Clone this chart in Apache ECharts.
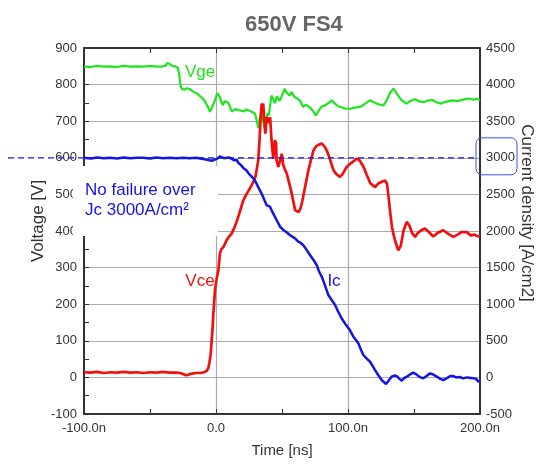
<!DOCTYPE html>
<html>
<head>
<meta charset="utf-8">
<title>650V FS4</title>
<script src="https://cdn.jsdelivr.net/npm/echarts@6/dist/echarts.min.js"></script>
<style>
  html, body { margin: 0; padding: 0; background: #fff; }
  #chart { width: 538px; height: 465px; }
</style>
</head>
<body>
<div id="chart"></div>
<script>
// Switching waveforms, time in ns
const vgeTime = [-100,-95,-90,-85,-80,-75,-70,-65,-60,-55,-50,-45,-40,-38,-37,-35,-33,-31,-29,-28,-27,-26,-25,-24,-22,-21,-20,-18,-16,-14,-12,-10,-8,-6,-4.5,-3,-1,1,1.7,3,4,5.3,6.5,8,9.5,11,12,13,14.5,15.7,17.5,19,21,23,25,27,29.5,31,32,33,34.6,35.8,37,38,39,40,41,42,43,44,44.6,46,47,48.4,50,52,53,54.5,56,57,59.6,61,63.6,66,68,71,73,75.6,78,80,83,85,87.6,90,92.6,95,98,101.5,105,109,112,116.6,120,124,126.8,129,132,134.3,136,138,140.7,142,144.5,147,150.8,154,157.1,160,164,167,170.3,174,179,183,187,191.7,195,198,200];
const vgeVolts = [850,848,851,849,850,848,851,849,850,849,851,849,850,852,859,856,851,850,846,830,800,789,791,786,790,785,788,783,778,775,768,762,752,738,726,738,755,777,781,765,752,744,755,759,750,735,726,722,733,736,730,731,727,732,729,726,721,700,681,705,728,700,680,700,722,715,712,770,775,755,749,768,762,756,770,789,780,783,770,780,766,762,757,739,745,738,730,716,730,740,744,749,757,748,741,738,734,734,737,739,745,757,751,745,743,755,778,789,781,770,757,752,748,755,760,754,752,756,758,752,748,753,757,755,759,762,759,761,757];

const vceTime = [-100,-95,-90,-85,-80,-75,-70,-65,-60,-55,-50,-45,-40,-35,-30,-27,-25,-23,-21,-19,-17,-15,-12,-9,-7,-5.8,-5,-4,-3.3,-2.5,-2,-1.2,-0.8,0.5,1.8,3,4,5.5,7,8,10,11.9,14,16,18,20.7,23,25.5,28.3,30,32,33,34,34.6,35.2,35.8,36.6,37.4,38.4,39.5,40.4,41,42,43.4,44.6,45.5,45.9,47.2,48.4,49.8,51,52,53.6,55.5,57.4,59.9,61,62.5,63.6,65,67.5,70,72,73.8,76,78,80.1,82,83.9,86,89,91,93.9,96,99,102,104,106.6,109,111.8,114,117,120.5,123,126,128,129.5,130.5,132,133.3,134.5,136,138.1,140,142,144.5,146.5,148.5,150.8,153,155.5,158.3,161,164.6,168,172.2,176,179.8,183,186,189.9,193,196,198,200];
const vceVolts = [14,13,15,12,14,13,15,13,14,12,14,13,15,13,13,12,9,6,7,10,11,12,12,14,18,26,40,65,100,140,175,215,238,270,292,339,350,356,366,375,385,393,410,429,452,484,500,515,534,550,593,650,720,748,740,748,700,666,711,705,695,711,650,598,648,640,593,575,590,611,580,570,557,530,502,457,455,452,458,475,520,566,595,620,632,636,639,632,620,600,566,556,548,556,575,585,590,598,592,575,555,530,520,530,535,538,530,500,450,411,390,370,347,360,400,425,415,395,384,395,402,407,398,385,395,402,392,384,390,397,397,388,390,386,385];

const icTime = [-100,-95,-90,-85,-80,-75,-70,-65,-60,-55,-50,-45,-40,-35,-30,-25,-20,-15,-10,-6,-3,-1,1,3,5,7,9,10.6,12,14,15.7,17,19,20.7,23,25,28.3,29.5,32,34.6,36.5,38.4,40.9,43,45.9,48.5,51,53,56,58,59.9,62.3,64,66,68,71.2,74,76.3,78,80.1,82.5,85.1,87.5,90.2,92.5,95.2,98,101.5,104,107.8,110,111.6,114,116.7,118.5,120.5,123,125.5,128.8,131,133,135,136.9,139,140.7,142.5,144.5,147,149.5,151.5,153.3,155,157.1,159.5,162.1,164.5,167.2,170,172.2,175,177.5,179.8,182,184.5,187.3,190,192,194.9,197,198.7,200];
const icDensity = [3000,2990,3005,2995,3000,2990,3005,2995,3000,3000,2990,3005,2995,3000,2995,3000,2995,3000,2985,2970,2960,2975,2990,3020,3000,2995,3005,3000,2990,2965,2970,2930,2900,2860,2830,2780,2720,2690,2600,2510,2430,2350,2332,2250,2150,2060,2014,1990,1945,1920,1900,1855,1840,1809,1760,1672,1600,1535,1450,1376,1260,1126,1060,989,900,807,730,643,560,466,370,306,260,214,160,100,30,-36,-90,-40,10,25,19,-20,-45,-10,10,40,64,45,19,0,-13,20,55,40,10,-20,-36,-10,20,19,0,5,-13,0,-5,-13,-20,-59,-40];

// Axis tick labels
const timeTicks = [-100, 0, 100, 200];
const timeTickLabels = ['-100.0n', '0.0', '100.0n', '200.0n'];

// Reference level: 600 V on the voltage scale = 3000 A/cm2
const refVoltage = 600;
const refDensity = 3000;

const GREEN = '#1ee61e';
const RED = '#f01010';
const BLUE = '#1414e6';
const FONT = '"Liberation Sans", Arial, sans-serif';

function zip(xs, ys) { return xs.map((x, i) => [x, ys[i]]); }

const chart = echarts.init(document.getElementById('chart'), null, { renderer: 'canvas' });

const frameLine = { show: true, onZero: false, lineStyle: { color: '#333', width: 2 } };
const tickLabel = { color: '#333', fontSize: 13, fontFamily: FONT };

chart.setOption({
  animation: false,
  backgroundColor: '#fff',
  title: {
    text: '650V FS4',
    left: 240, top: 9,
    textStyle: { color: '#666', fontSize: 22, fontWeight: 'bold', fontFamily: FONT }
  },
  grid: { left: 84, right: 58, top: 48, bottom: 51, containLabel: false },
  xAxis: [{
    type: 'value', min: -100, max: 200, interval: 100,
    name: 'Time [ns]', nameLocation: 'middle', nameGap: 29,
    nameTextStyle: { color: '#333', fontSize: 15, fontFamily: FONT },
    axisLine: frameLine,
    axisTick: { show: true, inside: true, length: 5, lineStyle: { color: '#333' } },
    minorTick: { show: true, splitNumber: 2, length: 5, lineStyle: { color: '#333', width: 1 } },
    axisLabel: Object.assign({ margin: 8, formatter: v => timeTickLabels[timeTicks.indexOf(v)] }, tickLabel),
    splitLine: { show: true, lineStyle: { color: '#aaa', width: 1.2 } }
  }, {
    type: 'value', position: 'top', min: -100, max: 200, interval: 100,
    axisLine: frameLine,
    axisTick: { show: true, inside: true, length: 5, lineStyle: { color: '#333' } },
    minorTick: { show: true, splitNumber: 2, length: 5, lineStyle: { color: '#333', width: 1 } },
    axisLabel: { show: false },
    splitLine: { show: false }
  }],
  yAxis: [{
    type: 'value', min: -100, max: 900, interval: 100, position: 'left',
    axisLine: frameLine,
    axisTick: { show: true, inside: true, length: 5, lineStyle: { color: '#333' } },
    minorTick: { show: true, splitNumber: 2, length: 5, lineStyle: { color: '#333', width: 1 } },
    axisLabel: Object.assign({ margin: 7, formatter: v => String(v) }, tickLabel),
    splitLine: { show: true, lineStyle: { color: '#aaa', width: 1.2 } }
  }, {
    type: 'value', min: -500, max: 4500, interval: 500, position: 'right',
    axisLine: frameLine,
    axisTick: { show: false },
    axisLabel: Object.assign({ margin: 6, formatter: v => String(v) }, tickLabel),
    splitLine: { show: false }
  }],
  series: [{
    name: 'Vge', type: 'line', xAxisIndex: 0, yAxisIndex: 0,
    data: zip(vgeTime, vgeVolts), showSymbol: false, z: 3,
    lineStyle: { color: GREEN, width: 2.2 }
  }, {
    name: 'Vce', type: 'line', xAxisIndex: 0, yAxisIndex: 0,
    data: zip(vceTime, vceVolts), showSymbol: false, z: 4,
    lineStyle: { color: RED, width: 2.7 }
  }, {
    name: 'Ic', type: 'line', xAxisIndex: 0, yAxisIndex: 1,
    data: zip(icTime, icDensity), showSymbol: false, z: 5,
    lineStyle: { color: BLUE, width: 2.5 }
  }]
});

// Overlay: labels, reference line and highlight box, placed from the axis scales
const refY = chart.convertToPixel({ yAxisIndex: 0 }, refVoltage);
const refY2 = chart.convertToPixel({ yAxisIndex: 1 }, refDensity);
const rightX = chart.convertToPixel({ xAxisIndex: 0 }, 200);

chart.setOption({
  graphic: [
    // white backing behind the annotation text
    { type: 'rect', z: 1, silent: true,
      shape: { x: 73, y: 166, width: 145, height: 70 },
      style: { fill: '#fff' } },
    { type: 'text', z: 10, x: 85, y: 190,
      style: { text: 'No failure over', fill: BLUE, font: '17px ' + FONT, verticalAlign: 'middle' } },
    { type: 'text', z: 10, x: 85, y: 210,
      style: { text: 'Jc 3000A/cm²', fill: BLUE, font: '17px ' + FONT, verticalAlign: 'middle' } },
    // dashed reference line at 600 V / 3000 A/cm2
    { type: 'line', z: 6, silent: true,
      shape: { x1: 8, y1: refY, x2: rightX - 5, y2: refY },
      style: { stroke: BLUE, lineWidth: 1.3, lineDash: [6, 4] } },
    // rounded box around the 3000 tick label
    { type: 'rect', z: 10, silent: true,
      shape: { x: 476, y: refY2 - 20, width: 41, height: 37, r: 6 },
      style: { fill: 'none', stroke: '#3a4ef0', lineWidth: 1 } },
    // trace labels
    { type: 'text', z: 10, x: 200, y: 72,
      style: { text: 'Vge', fill: GREEN, font: '17px ' + FONT, align: 'center', verticalAlign: 'middle' } },
    { type: 'text', z: 10, x: 200, y: 281,
      style: { text: 'Vce', fill: RED, font: '17px ' + FONT, align: 'center', verticalAlign: 'middle' } },
    { type: 'text', z: 10, x: 334, y: 281,
      style: { text: 'Ic', fill: BLUE, font: '17px ' + FONT, align: 'center', verticalAlign: 'middle' } },
    // axis titles
    { type: 'text', z: 10, x: 38, y: 221, rotation: Math.PI / 2,
      style: { text: 'Voltage [V]', fill: '#333', font: '17px ' + FONT, align: 'center', verticalAlign: 'middle' } },
    { type: 'text', z: 10, x: 527, y: 213, rotation: -Math.PI / 2,
      style: { text: 'Current density [A/cm2]', fill: '#333', font: '17px ' + FONT, align: 'center', verticalAlign: 'middle' } }
  ]
});
</script>
</body>
</html>
